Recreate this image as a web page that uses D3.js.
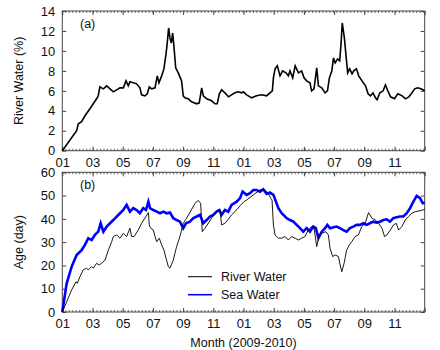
<!DOCTYPE html>
<html lang="en">
<head>
  <meta charset="UTF-8">
  <title>River and Sea Water</title>
  <script src="https://d3js.org/d3.v7.min.js"></script>
  <style>
    body { margin: 0; padding: 0; background: #fff; }
    svg { font-family: 'Liberation Sans', Arial, sans-serif; }
    .tick text { font-size: 13px; fill: #111; }
    .label { font-size: 12.5px; fill: #111; }
  </style>
</head>
<body>
  <div id="chart"></div>
  <script>
    // month index since Jan 2009 (0..24) and values
    const riverPctT = [0,0.95,1.06,1.28,1.50,1.83,2.05,2.27,2.38,2.49,2.60,2.72,2.94,3.16,3.38,3.60,3.82,4.04,4.22,4.37,4.48,4.70,4.92,5.14,5.25,5.47,5.63,5.76,5.92,6.14,6.29,6.40,6.58,6.73,6.87,6.95,7.04,7.13,7.22,7.31,7.40,7.51,7.68,7.90,8.01,8.12,8.34,8.56,8.90,9.07,9.23,9.34,9.56,9.89,10.11,10.26,10.40,10.55,10.77,11.00,11.21,11.43,11.66,11.88,11.99,12.21,12.54,12.87,13.20,13.53,13.75,13.91,13.98,14.09,14.24,14.42,14.59,14.81,14.97,15.08,15.26,15.42,15.64,15.85,16.01,16.18,16.40,16.51,16.67,16.85,16.96,17.18,17.40,17.56,17.69,17.85,17.96,18.07,18.23,18.37,18.46,18.54,18.68,18.81,18.90,19.03,19.19,19.30,19.48,19.63,19.85,20.08,20.25,20.41,20.58,20.74,20.85,21.03,21.25,21.40,21.56,21.74,22.00,22.22,22.51,22.73,22.95,23.11,23.34,23.53,23.75,24.00];
    const riverPct = [0,2.0,2.7,2.9,3.5,4.2,4.7,5.2,5.5,6.4,6.3,6.2,6.5,6.2,5.9,6.1,6.3,6.3,7.0,6.5,6.9,6.8,6.7,6.3,5.6,5.5,5.7,6.4,6.2,6.3,7.5,6.8,7.5,8.2,9.7,10.8,12.3,11.3,10.8,11.8,10.3,8.3,7.8,7.0,5.5,5.3,5.2,4.9,4.7,4.8,6.3,5.5,5.2,5.0,4.7,4.7,5.7,6.1,5.8,5.4,5.6,5.8,5.9,5.8,5.9,5.6,5.3,5.5,5.6,5.5,5.8,6.0,7.3,8.2,8.5,7.5,8.0,7.8,7.5,8.0,7.3,8.5,7.8,8.0,7.3,7.0,6.8,6.0,6.2,8.3,6.5,6.3,5.8,6.0,7.3,8.0,9.3,8.8,9.2,9.0,10.7,12.8,11.3,9.2,7.8,8.2,7.7,8.0,8.2,7.5,7.0,6.5,5.7,5.5,5.8,5.3,5.1,5.8,6.0,6.6,6.0,5.4,5.2,5.7,5.5,5.2,5.4,5.7,6.2,6.3,6.2,6.0];

    const riverAgeT = [0,0.29,0.62,0.91,0.99,1.17,1.39,1.61,1.72,1.94,2.05,2.27,2.45,2.60,2.83,3.05,3.27,3.38,3.60,3.82,4.04,4.26,4.48,4.59,4.75,5.03,5.25,5.47,5.70,5.76,5.85,6.03,6.14,6.25,6.42,6.58,6.73,6.87,7.02,7.13,7.35,7.57,7.79,8.01,8.23,8.45,8.79,9.01,9.16,9.27,9.45,9.67,9.89,10.11,10.33,10.44,10.55,10.77,10.99,11.21,11.43,11.77,12.03,12.21,12.65,13.09,13.42,13.64,13.80,13.89,13.98,14.09,14.31,14.53,14.75,14.97,15.19,15.42,15.64,15.85,16.07,16.29,16.51,16.67,16.85,17.02,17.18,17.46,17.62,17.73,17.91,18.07,18.29,18.40,18.51,18.66,18.83,19.01,19.17,19.39,19.61,19.83,20.06,20.28,20.50,20.73,20.95,21.17,21.34,21.50,21.72,21.94,22.12,22.27,22.49,22.71,22.93,23.15,23.37,23.70,24.00];
    const riverAge = [0,4.4,9.5,13.0,12.3,15.2,18.1,18.8,18.1,19.5,18.8,20.9,20.2,20.9,22.3,26.6,30.2,32.4,33.1,31.7,33.8,32.4,36.0,32.4,32.4,35.2,38.1,40.3,42.7,37.4,36.0,35.2,32.4,30.2,31.7,28.8,26.6,23.1,19.5,18.8,22.3,28.1,32.4,38.1,40.3,42.7,46.7,47.9,46.7,34.5,36.0,38.1,40.3,42.4,43.8,43.8,37.4,38.1,39.8,41.7,43.1,45.6,47.4,48.1,50.3,52.4,52.4,51.0,48.9,48.1,37.4,33.1,31.7,31.7,32.4,30.9,32.4,31.7,30.9,31.7,32.4,35.2,36.7,36.0,28.1,33.1,33.8,34.5,33.1,27.4,23.8,24.5,23.8,20.2,17.3,20.9,26.6,28.8,30.2,32.4,33.1,36.7,38.1,42.7,40.3,39.5,38.1,36.0,32.4,33.1,35.2,37.4,38.1,35.2,36.7,39.5,41.0,42.4,43.1,43.5,44.1];

    const seaAgeT = [0,0.29,0.62,0.95,1.28,1.50,1.72,1.94,2.16,2.38,2.54,2.72,2.94,3.16,3.38,3.60,3.82,4.04,4.26,4.48,4.70,4.92,5.14,5.36,5.54,5.70,5.81,6.03,6.25,6.47,6.69,6.91,7.13,7.35,7.57,7.79,8.01,8.19,8.45,8.68,8.90,9.12,9.34,9.56,9.78,10.00,10.22,10.40,10.55,10.77,10.99,11.21,11.55,11.77,11.94,12.21,12.43,12.65,12.87,13.09,13.31,13.53,13.75,13.98,14.15,14.31,14.53,14.86,15.08,15.30,15.52,15.74,15.96,16.18,16.40,16.62,16.79,16.96,17.18,17.40,17.55,17.73,17.96,18.17,18.39,18.61,18.83,19.05,19.27,19.49,19.71,19.93,20.15,20.37,20.59,20.81,21.04,21.26,21.48,21.70,21.92,22.14,22.36,22.58,22.81,23.03,23.25,23.47,23.69,23.87,24.00];
    const seaAge = [0,12.3,19.5,24.5,26.6,28.8,31.7,30.9,33.1,34.5,38.1,34.5,36.7,38.1,39.5,41.0,42.4,43.8,46.0,43.1,44.6,43.8,42.4,44.6,43.8,47.4,44.6,43.8,43.1,42.4,43.1,42.4,42.7,40.3,39.5,38.8,36.0,38.1,38.8,40.3,41.0,41.7,38.1,39.5,41.0,41.7,43.1,43.8,41.7,43.8,43.1,46.0,47.4,48.9,51.7,50.3,51.0,52.4,52.4,51.7,52.7,50.7,51.3,50.3,47.4,44.6,42.4,40.3,39.5,38.8,37.4,36.0,34.5,36.0,34.5,36.7,36.0,31.7,34.5,36.0,37.4,36.0,36.4,36.7,36.0,35.2,34.5,36.0,36.7,37.4,37.4,38.1,37.4,38.1,38.8,38.4,38.8,39.5,39.8,38.8,40.3,40.7,41.0,41.0,42.4,44.6,47.4,49.9,48.9,46.7,47.0];

    const monthTicks = [0,2,4,6,8,10,12,14,16,18,20,22,24];
    const monthLabels = ["01","03","05","07","09","11","01","03","05","07","09","11",""];
    const pctTicks = [0,2,4,6,8,10,12,14];
    const ageTicks = [0,10,20,30,40,50,60];

    const W = 440, H = 350;
    const left = 62.3, right = 424.7;
    const svg = d3.select("#chart").append("svg").attr("width", W).attr("height", H);

    const x = d3.scaleLinear().domain([0, 24]).range([left, right]);
    // weekly minor ticks, 730 days over 24 months
    const minor = d3.range(0, 731, 7).map(d => d * 24 / 730);

    function panel(top, bottom, yDomain, yTicks, yTitle, tag) {
      const y = d3.scaleLinear().domain(yDomain).range([bottom, top]);
      const g = svg.append("g");

      // minor ticks top and bottom
      g.selectAll(".mb").data(minor).enter().append("line")
        .attr("x1", d => x(d)).attr("x2", d => x(d))
        .attr("y1", bottom).attr("y2", bottom - 2).attr("stroke", "#444").attr("stroke-width", 0.8);
      g.selectAll(".mt").data(minor).enter().append("line")
        .attr("x1", d => x(d)).attr("x2", d => x(d))
        .attr("y1", top).attr("y2", top + 2).attr("stroke", "#444").attr("stroke-width", 0.8);

      const xb = g.append("g").attr("transform", "translate(0," + bottom + ")")
        .call(d3.axisBottom(x).tickValues(monthTicks).tickSize(-4).tickPadding(7)
          .tickFormat((d, i) => monthLabels[i]));
      const xt = g.append("g").attr("transform", "translate(0," + top + ")")
        .call(d3.axisTop(x).tickValues(monthTicks).tickSize(-4).tickFormat(""));
      const yl = g.append("g").attr("transform", "translate(" + left + ",0)")
        .call(d3.axisLeft(y).tickValues(yTicks).tickSize(-4).tickPadding(7));
      const yr = g.append("g").attr("transform", "translate(" + right + ",0)")
        .call(d3.axisRight(y).tickValues(yTicks).tickSize(-4).tickFormat(""));
      [xb, xt, yl, yr].forEach(a => {
        a.select(".domain").remove();
        a.selectAll(".tick line").attr("stroke", "#444");
      });

      g.append("rect").attr("x", left).attr("y", top)
        .attr("width", right - left).attr("height", bottom - top)
        .attr("fill", "none").attr("stroke", "#444").attr("stroke-width", 1);

      g.append("text").attr("class", "label")
        .attr("transform", "translate(22.5," + ((top + bottom) / 2) + ") rotate(-90)")
        .attr("text-anchor", "middle").text(yTitle);

      g.append("text").attr("class", "label")
        .attr("x", 80).attr("y", top + 17).text(tag);
      return y;
    }

    const yA = panel(11, 150.7, [0, 14], pctTicks, "River Water (%)", "(a)");
    const yB = panel(172.3, 312, [0, 60], ageTicks, "Age (day)", "(b)");

    const line = (ys, t) => d3.line().x((d, i) => x(t[i])).y(d => ys(d));

    svg.append("path").datum(riverPct)
      .attr("d", line(yA, riverPctT))
      .attr("fill", "none").attr("stroke", "#000").attr("stroke-width", 1.6);

    svg.append("path").datum(seaAge)
      .attr("d", line(yB, seaAgeT))
      .attr("fill", "none").attr("stroke", "#0000ff").attr("stroke-width", 2.6);

    svg.append("path").datum(riverAge)
      .attr("d", line(yB, riverAgeT))
      .attr("fill", "none").attr("stroke", "#000").attr("stroke-width", 0.9);

    // legend
    const legend = [["River Water", "#000", 1], ["Sea Water", "#0000ff", 1.6]];
    const lg = svg.append("g").selectAll("g").data(legend).enter().append("g")
      .attr("transform", (d, i) => "translate(188," + (276.7 + i * 18) + ")");
    lg.append("line").attr("x1", 0).attr("x2", 24)
      .attr("stroke", d => d[1]).attr("stroke-width", d => d[2]);
    lg.append("text").attr("class", "label").attr("x", 33).attr("y", 4.5).text(d => d[0]);

    svg.append("text").attr("class", "label")
      .attr("x", (left + right) / 2).attr("y", 347)
      .attr("text-anchor", "middle").text("Month (2009-2010)");
  </script>
</body>
</html>
